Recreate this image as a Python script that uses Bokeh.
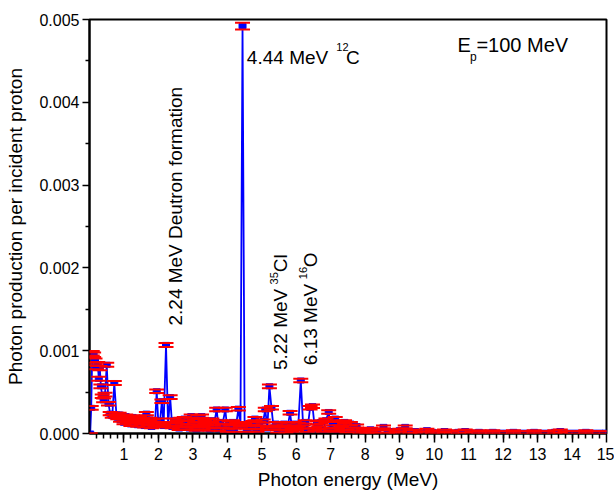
import math
from bokeh.plotting import figure
from bokeh.models import (ColumnDataSource, Whisker, TeeHead, Range1d, FixedTicker,
                          NumeralTickFormatter, Label)
from bokeh.embed import file_html
from bokeh.resources import INLINE

# ---------------- data ----------------
energy = [
    0.02, 0.05, 0.08, 0.12, 0.16, 0.20, 0.24, 0.27, 0.30, 0.33,
    0.37, 0.41, 0.45, 0.50, 0.55, 0.60, 0.66, 0.72, 0.78, 0.82,
    0.86, 0.90, 0.95, 1.00, 1.05, 1.10, 1.15, 1.20, 1.25, 1.30,
    1.35, 1.40, 1.45, 1.50, 1.55, 1.60, 1.65, 1.70, 1.75, 1.80,
    1.85, 1.90, 1.95, 2.00, 2.05, 2.10, 2.15, 2.22, 2.28, 2.34,
    2.40, 2.45, 2.50, 2.55, 2.60, 2.65, 2.70, 2.75, 2.80, 2.85,
    2.90, 2.95, 3.00, 3.05, 3.10, 3.15, 3.20, 3.25, 3.30, 3.35,
    3.40, 3.45, 3.50, 3.55, 3.60, 3.69, 3.75, 3.80, 3.85, 3.94,
    4.00, 4.05, 4.10, 4.15, 4.20, 4.26, 4.32, 4.38, 4.44, 4.50,
    4.56, 4.62, 4.68, 4.74, 4.80, 4.86, 4.92, 4.98, 5.04, 5.10,
    5.16, 5.22, 5.28, 5.34, 5.40, 5.46, 5.52, 5.58, 5.64, 5.70,
    5.76, 5.82, 5.88, 5.94, 6.00, 6.06, 6.13, 6.20, 6.26, 6.32,
    6.40, 6.47, 6.54, 6.60, 6.66, 6.72, 6.78, 6.86, 6.94, 7.00,
    7.06, 7.13, 7.20, 7.26, 7.32, 7.40, 7.47, 7.57, 7.65, 7.75,
    7.85, 7.95, 8.05, 8.15, 8.25, 8.35, 8.53, 8.65, 8.80, 8.90,
    9.00, 9.16, 9.30, 9.45, 9.60, 9.79, 9.95, 10.10, 10.30, 10.50,
    10.70, 10.90, 11.10, 11.30, 11.50, 11.70, 11.90, 12.10, 12.30, 12.50,
    12.70, 12.90, 13.10, 13.30, 13.50, 13.66, 13.80, 14.00, 14.20, 14.40,
    14.60, 14.80, 14.98,
]

photons = [
    0.0, 0.00031, 0.00097, 0.00095, 0.00088, 0.00080, 0.00084, 0.00066, 0.00079, 0.00057,
    0.00045, 0.00040, 0.00047, 0.00083, 0.00036, 0.00024, 0.00021, 0.00061, 0.00023, 0.00019,
    0.00023, 0.00016, 0.00020, 0.00013, 0.00021, 0.00015, 0.00018, 0.00011, 0.00020, 0.00014,
    0.00017, 0.00010, 0.00019, 0.00013, 0.00016, 0.00009, 0.00024, 0.00012, 0.00017, 0.00008,
    0.00015, 0.00011, 0.00051, 0.00010, 0.00016, 0.00039, 0.00009, 0.00107, 0.00011, 0.00044,
    0.00008, 0.00016, 0.00011, 0.00014, 0.00006, 0.00017, 0.00010, 0.00018, 0.00007, 0.00013,
    0.00006, 0.00021, 0.00009, 0.00015, 0.00005, 0.00020, 0.00012, 0.00021, 0.00006, 0.00014,
    0.00009, 0.00015, 0.00005, 0.00016, 0.00008, 0.00029, 0.00005, 0.00014, 0.00009, 0.00029,
    0.00004, 0.00013, 0.00008, 0.00014, 0.00004, 0.00012, 0.00030, 0.00010, 0.00492, 0.00011,
    0.00004, 0.00012, 0.00007, 0.00013, 0.00018, 0.00004, 0.00012, 0.00007, 0.00015, 0.00029,
    0.00006, 0.00057, 0.00031, 0.00007, 0.00012, 0.00003, 0.00011, 0.00006, 0.00012, 0.00003,
    0.00011, 0.00025, 0.00004, 0.00012, 0.00006, 0.00011, 0.00064, 0.00008, 0.00014, 0.00004,
    0.00031, 0.00033, 0.00005, 0.00013, 0.00007, 0.00014, 0.00004, 0.00016, 0.00026, 0.00005,
    0.00012, 0.00018, 0.00004, 0.00012, 0.00006, 0.00014, 0.00003, 0.00012, 0.00005, 0.00009,
    0.00002, 0.00004, 0.00002, 0.00005, 0.00002, 0.00003, 0.00008, 0.00002, 0.00003, 0.00001,
    0.00004, 0.00008, 0.00002, 0.00003, 0.00001, 0.00004, 0.00002, 0.00001, 0.00003, 0.00001,
    0.00002, 0.00003, 0.00001, 0.00002, 0.00001, 0.00002, 0.00001, 0.00001, 0.00002, 0.00001,
    0.00001, 0.00002, 0.00001, 0.00001, 0.00002, 0.00003, 0.00001, 0.00001, 0.00001, 0.00002,
    0.00001, 0.00001, 0.00001,
]

errors = [
    0.0, 0.000022, 0.000027, 0.000027, 0.000026, 0.000025, 0.000025, 0.000024, 0.000025, 0.000023,
    0.000022, 0.000022, 0.000022, 0.000025, 0.000021, 0.00002, 0.00002, 0.000023, 0.00002, 0.000019,
    0.00002, 0.000019, 0.00002, 0.000019, 0.00002, 0.000019, 0.00002, 0.000018, 0.00002, 0.000018,
    0.00002, 0.000018, 0.00002, 0.000018, 0.00002, 0.000018, 0.00002, 0.000018, 0.00002, 0.000018,
    0.00002, 0.000018, 0.000022, 0.000018, 0.00002, 0.000021, 0.000018, 0.000024, 0.000018, 0.000022,
    0.000018, 0.00002, 0.000018, 0.00002, 0.000018, 0.00002, 0.000018, 0.00002, 0.000018, 0.00002,
    0.000018, 0.00002, 0.000018, 0.00002, 0.000018, 0.00002, 0.000018, 0.00002, 0.000018, 0.00002,
    0.000018, 0.00002, 0.000018, 0.00002, 0.000018, 0.000021, 0.000018, 0.00002, 0.000018, 0.000021,
    0.000018, 0.00002, 0.000018, 0.00002, 0.000018, 0.00002, 0.000021, 0.000018, 0.00004, 0.000018,
    0.000018, 0.00002, 0.000018, 0.00002, 0.00002, 0.000018, 0.00002, 0.000018, 0.00002, 0.000021,
    0.000018, 0.000022, 0.000021, 0.000018, 0.00002, 0.000018, 0.00002, 0.000018, 0.00002, 0.000018,
    0.00002, 0.000021, 0.000018, 0.00002, 0.000018, 0.00002, 0.000022, 0.000018, 0.00002, 0.000018,
    0.000021, 0.000021, 0.000018, 0.00002, 0.000018, 0.00002, 0.000018, 0.00002, 0.000021, 0.000018,
    0.00002, 0.00002, 0.000018, 0.00002, 0.000018, 0.00002, 0.000018, 0.00002, 0.000018, 0.000018,
    0.000018, 0.000018, 0.000018, 0.000018, 0.000018, 0.000018, 0.000018, 0.000018, 0.000018, 0.000018,
    0.000018, 0.000018, 0.000018, 0.000018, 0.000018, 0.000018, 0.000018, 0.000018, 0.000018, 0.000018,
    0.000018, 0.000018, 0.000018, 0.000018, 0.000018, 0.000018, 0.000018, 0.000018, 0.000018, 0.000018,
    0.000018, 0.000018, 0.000018, 0.000018, 0.000018, 0.000018, 0.000018, 0.000018, 0.000018, 0.000018,
    0.000018, 0.000018, 0.000018,
]

x_ticks = [1, 2, 3, 4, 5, 6, 7, 8, 9, 10, 11, 12, 13, 14, 15]
y_ticks = [0.0, 0.001, 0.002, 0.003, 0.004, 0.005]

assert len(energy) == len(photons) == len(errors)

BLUE = "#0000ff"
RED = "#ff0000"
FONT = "Liberation Sans"

src = ColumnDataSource(dict(
    energy=energy,
    photons=photons,
    upper=[c + e for c, e in zip(photons, errors)],
    lower=[c - e for c, e in zip(photons, errors)],
))

p = figure(width=614, height=492, output_backend="svg", toolbar_location=None,
           x_range=Range1d(0, 15), y_range=Range1d(0, 0.005),
           min_border_left=89, min_border_right=8, min_border_top=19,
           min_border_bottom=55)
p.xgrid.visible = False
p.ygrid.visible = False
p.outline_line_color = "black"
p.outline_line_width = 2
p.background_fill_color = "white"
p.border_fill_color = "white"

p.line("energy", "photons", source=src, line_color=BLUE, line_width=1.8)
p.rect("energy", "photons", width=7, height=5, width_units="screen",
       height_units="screen", source=src, fill_color=BLUE, line_color=BLUE)

w = Whisker(source=src, base="energy", upper="upper", lower="lower",
            line_color=BLUE, line_width=1, level="overlay",
            upper_head=TeeHead(size=15, line_color=RED, line_width=2),
            lower_head=TeeHead(size=15, line_color=RED, line_width=2))
p.add_layout(w)

# axes
p.xaxis.ticker = FixedTicker(ticks=x_ticks,
                             minor_ticks=[i * 0.2 for i in range(1, 75)])
p.yaxis.ticker = FixedTicker(ticks=y_ticks,
                             minor_ticks=[0.0005, 0.0015, 0.0025, 0.0035, 0.0045])
p.yaxis.formatter = NumeralTickFormatter(format="0.000")
p.xaxis.axis_label = "Photon energy (MeV)"
p.yaxis.axis_label = "Photon production per incident proton"
for ax in (p.xaxis[0], p.yaxis[0]):
    ax.axis_line_width = 2
    ax.axis_line_color = "black"
    ax.major_tick_line_width = 1.5
    ax.minor_tick_line_width = 1.5
    ax.major_tick_in = 0
    ax.minor_tick_in = 0
    ax.major_label_text_font = FONT
    ax.major_label_text_font_size = "16px"
    ax.major_label_text_color = "black"
    ax.axis_label_text_font = FONT
    ax.axis_label_text_font_size = "19px"
    ax.axis_label_text_font_style = "normal"
    ax.axis_label_text_color = "black"
p.xaxis.major_tick_out = 9
p.xaxis.minor_tick_out = 5
p.xaxis.major_label_standoff = 5
p.xaxis.axis_label_standoff = 6
p.yaxis.major_tick_out = 7
p.yaxis.minor_tick_out = 4
p.yaxis.major_label_standoff = 3
p.yaxis.axis_label_standoff = 10


def lab(x, y, t, size, angle=0.0, align="left"):
    p.add_layout(Label(x=x, y=y, text=t, text_font=FONT, text_font_size=size,
                       text_color="black", angle=angle, text_align=align,
                       text_baseline="alphabetic"))


# annotations
lab(4.566, 0.004540, "4.44 MeV", "19px")
lab(7.16, 0.004670, "12", "11px")
lab(7.44, 0.004540, "C", "19px")

lab(10.674, 0.004689, "E", "20px")
lab(11.04, 0.004545, "p", "12px")
lab(11.225, 0.004689, "=100 MeV", "20px")

V = math.pi / 2
lab(2.483, 0.001304, "2.24 MeV Deutron formation", "19px", angle=V)
lab(5.533, 0.000766, "5.22 MeV", "19px", angle=V)
lab(5.34, 0.00180, "35", "11px", angle=V)
lab(5.533, 0.001947, "Cl", "19px", angle=V)
lab(6.404, 0.000825, "6.13 MeV", "19px", angle=V)
lab(6.2, 0.001864, "16", "11px", angle=V)
lab(6.404, 0.002007, "O", "19px", angle=V)

open("out.html", "w").write(file_html(p, INLINE))
